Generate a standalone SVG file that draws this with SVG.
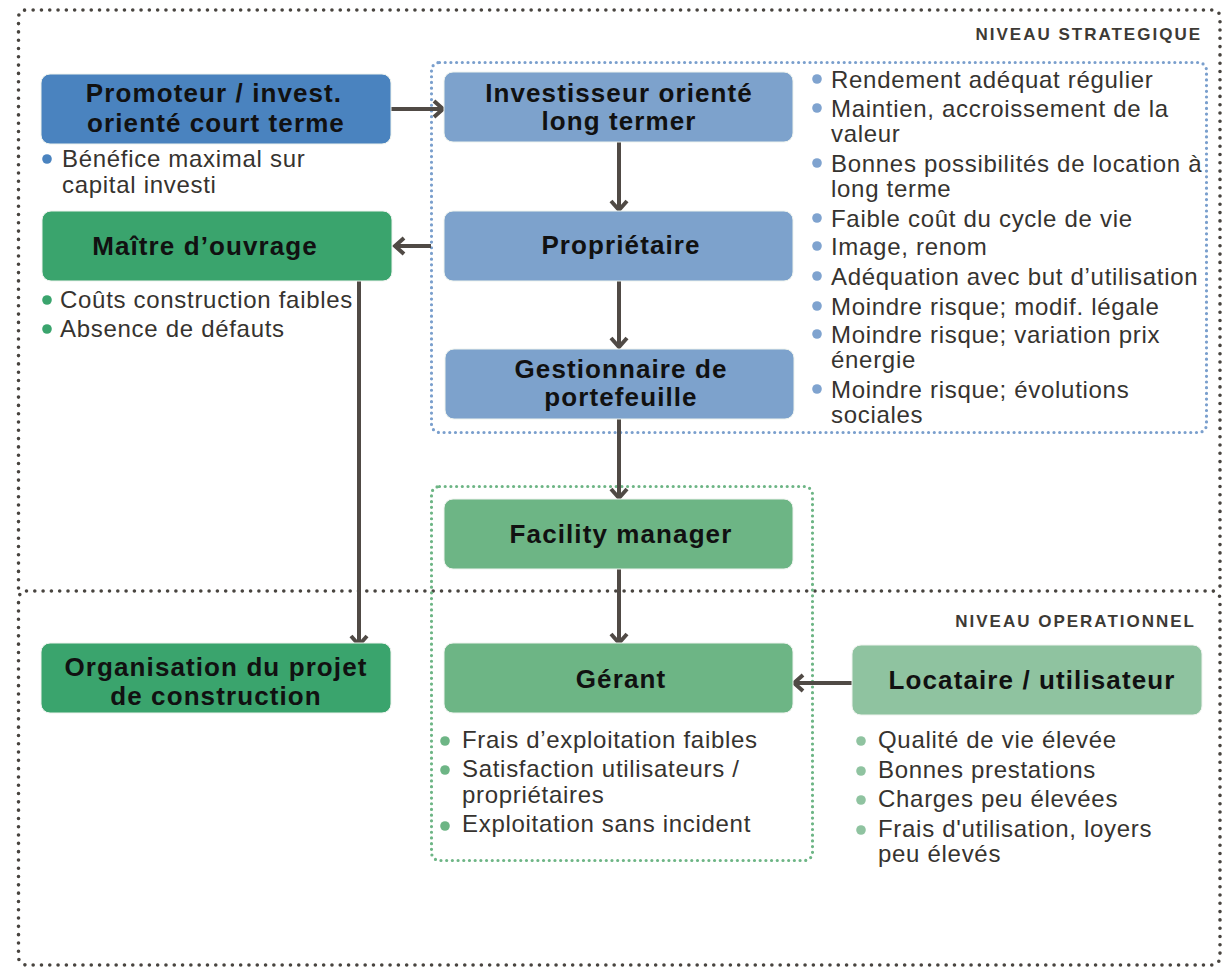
<svg xmlns="http://www.w3.org/2000/svg" width="1225" height="967" viewBox="0 0 1225 967">
<defs>
<style>
.panel{fill:none;stroke:#48443f;stroke-width:3.6;stroke-dasharray:0 8.3;stroke-linecap:round}
.gblue{fill:none;stroke:#7a9fcd;stroke-width:3.2;stroke-dasharray:0 5.7;stroke-linecap:round}
.ggreen{fill:none;stroke:#6db585;stroke-width:3.2;stroke-dasharray:0 5.7;stroke-linecap:round}
.title{font-family:"Liberation Sans",Arial,sans-serif;font-weight:bold;font-size:26px;letter-spacing:1.1px;fill:#111;text-anchor:middle}
.txt{font-family:"Liberation Sans",Arial,sans-serif;font-size:24px;letter-spacing:0.7px;fill:#36332f}
.lvl{font-family:"Liberation Sans",Arial,sans-serif;font-weight:bold;font-size:17px;letter-spacing:2px;fill:#3d3a35;text-anchor:end}
.conn{fill:none;stroke:#504a45;stroke-width:4;marker-end:url(#arr)}
.box{stroke:#eef3ee;stroke-width:1}
.b1{fill:#4a83bf}.b2{fill:#7da2cc}.g1{fill:#3aa46d}.g2{fill:#6db585}.g3{fill:#8fc3a0}
.d1{fill:#4a83bf}.d2{fill:#7fa3cf}.dg1{fill:#3aa46d}.dg2{fill:#6db585}.dg3{fill:#8fc3a0}
</style>
<marker id="arr" markerUnits="userSpaceOnUse" markerWidth="30" markerHeight="30" viewBox="-15 -15 30 30" refX="0" refY="0" orient="auto">
<path d="M-9,-8 L0,0 L-9,8" fill="none" stroke="#504a45" stroke-width="4"/>
</marker>
</defs>
<rect width="1225" height="967" fill="#fff"/>

<g id="panels">
<path class="panel" d="M18.5,588 V18 Q18.5,10 26.5,10 H1212 Q1220,10 1220,18 V588"/>
<rect class="panel" x="18.5" y="591" width="1201.5" height="374" rx="8"/>
<text class="lvl" x="1202" y="40">NIVEAU STRATEGIQUE</text>
<text class="lvl" x="1196" y="627">NIVEAU OPERATIONNEL</text>
<rect class="gblue" x="431.5" y="62.5" width="775" height="370" rx="8"/>
<rect class="ggreen" x="431.5" y="486.5" width="381" height="374" rx="8"/>
</g>

<g id="connectors">
<path class="conn" d="M391,109 H443"/>
<path class="conn" d="M431,246 H395"/>
<path class="conn" d="M619,142 V210"/>
<path class="conn" d="M619,281 V347"/>
<path class="conn" d="M619,419 V498"/>
<path class="conn" d="M619,569 V643"/>
<path class="conn" d="M359,281 V645"/>
<path class="conn" d="M852,683 H794"/>
</g>

<g id="promoteur">
<rect class="box b1" x="41" y="74" width="350" height="70" rx="9"/>
<text class="title" x="214" y="102">Promoteur / invest.</text>
<text class="title" x="216" y="132">orienté court terme</text>
<circle class="d1" cx="47" cy="159" r="4.8"/>
<text class="txt" x="62" y="167">Bénéfice maximal sur</text>
<text class="txt" x="62" y="193">capital investi</text>
</g>

<g id="investisseur">
<rect class="box b2" x="444" y="72" width="349" height="70" rx="9"/>
<text class="title" x="619" y="102">Investisseur orienté</text>
<text class="title" x="619" y="130">long termer</text>
</g>

<g id="proprietaire">
<rect class="box b2" x="444" y="211" width="349" height="70" rx="9"/>
<text class="title" x="621" y="254">Propriétaire</text>
</g>

<g id="gestionnaire">
<rect class="box b2" x="445" y="349" width="349" height="70" rx="9"/>
<text class="title" x="621" y="378">Gestionnaire de</text>
<text class="title" x="621" y="406">portefeuille</text>
</g>

<g id="objectifs-investisseur">
<circle class="d2" cx="817" cy="79" r="4.8"/>
<text class="txt" x="831" y="88">Rendement adéquat régulier</text>
<circle class="d2" cx="817" cy="108" r="4.8"/>
<text class="txt" x="831" y="117">Maintien, accroissement de la</text>
<text class="txt" x="831" y="142">valeur</text>
<circle class="d2" cx="817" cy="163" r="4.8"/>
<text class="txt" x="831" y="172">Bonnes possibilités de location à</text>
<text class="txt" x="831" y="197">long terme</text>
<circle class="d2" cx="817" cy="218" r="4.8"/>
<text class="txt" x="831" y="227">Faible coût du cycle de vie</text>
<circle class="d2" cx="817" cy="246" r="4.8"/>
<text class="txt" x="831" y="255">Image, renom</text>
<circle class="d2" cx="817" cy="276" r="4.8"/>
<text class="txt" x="831" y="285">Adéquation avec but d’utilisation</text>
<circle class="d2" cx="817" cy="306" r="4.8"/>
<text class="txt" x="831" y="315">Moindre risque; modif. légale</text>
<circle class="d2" cx="817" cy="334" r="4.8"/>
<text class="txt" x="831" y="343">Moindre risque; variation prix</text>
<text class="txt" x="831" y="368">énergie</text>
<circle class="d2" cx="817" cy="389" r="4.8"/>
<text class="txt" x="831" y="398">Moindre risque; évolutions</text>
<text class="txt" x="831" y="423">sociales</text>
</g>

<g id="maitre-ouvrage">
<rect class="box g1" x="42" y="211" width="350" height="70" rx="9"/>
<text class="title" x="205" y="255">Maître d’ouvrage</text>
<circle class="dg1" cx="47" cy="300" r="4.8"/>
<text class="txt" x="60" y="308">Coûts construction faibles</text>
<circle class="dg1" cx="47" cy="329" r="4.8"/>
<text class="txt" x="60" y="337">Absence de défauts</text>
</g>

<g id="organisation">
<rect class="box g1" x="41" y="643" width="350" height="70" rx="9"/>
<text class="title" x="216" y="676">Organisation du projet</text>
<text class="title" x="216" y="705">de construction</text>
</g>

<g id="facility-manager">
<rect class="box g2" x="444" y="499" width="349" height="70" rx="9"/>
<text class="title" x="621" y="543">Facility manager</text>
</g>

<g id="gerant">
<rect class="box g2" x="444" y="643" width="349" height="70" rx="9"/>
<text class="title" x="621" y="688">Gérant</text>
<circle class="dg2" cx="445" cy="741" r="4.8"/>
<text class="txt" x="462" y="748">Frais d’exploitation faibles</text>
<circle class="dg2" cx="445" cy="770" r="4.8"/>
<text class="txt" x="462" y="777">Satisfaction utilisateurs /</text>
<text class="txt" x="462" y="803">propriétaires</text>
<circle class="dg2" cx="445" cy="826" r="4.8"/>
<text class="txt" x="462" y="832">Exploitation sans incident</text>
</g>

<g id="locataire">
<rect class="box g3" x="852" y="645" width="350" height="70" rx="9"/>
<text class="title" x="1032" y="689">Locataire / utilisateur</text>
<circle class="dg3" cx="861" cy="741" r="4.8"/>
<text class="txt" x="878" y="748">Qualité de vie élevée</text>
<circle class="dg3" cx="861" cy="771" r="4.8"/>
<text class="txt" x="878" y="778">Bonnes prestations</text>
<circle class="dg3" cx="861" cy="800" r="4.8"/>
<text class="txt" x="878" y="807">Charges peu élevées</text>
<circle class="dg3" cx="861" cy="830" r="4.8"/>
<text class="txt" x="878" y="837">Frais d'utilisation, loyers</text>
<text class="txt" x="878" y="862">peu élevés</text>
</g>
</svg>
